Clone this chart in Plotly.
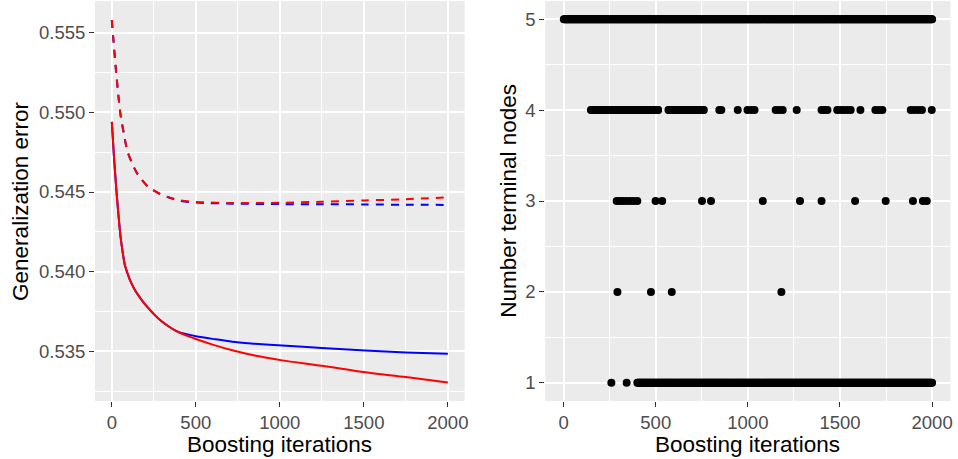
import plotly.graph_objects as go

# ---------------- data: left panel (generalization error) ----------------
solid_iter = [0, 13, 26, 36, 52, 65, 78, 95, 111, 140, 176, 210, 253, 300, 362, 400, 462, 500, 600, 717, 850, 1014, 1250, 1508, 1750, 2000]
solid_red  = [0.5494, 0.5472, 0.5453, 0.5440, 0.5422, 0.5412, 0.5404, 0.53985, 0.5394, 0.5388, 0.53825, 0.5378, 0.5373, 0.53685, 0.5364, 0.53618, 0.53592, 0.53577, 0.53542, 0.53506, 0.53473, 0.53443, 0.53409, 0.53368, 0.53338, 0.53304]
solid_blue = [0.5494, 0.5472, 0.5453, 0.5440, 0.5422, 0.5412, 0.5404, 0.53985, 0.5394, 0.5388, 0.53825, 0.5378, 0.5373, 0.53685, 0.5364, 0.53620, 0.53603, 0.53595, 0.53578, 0.53560, 0.53548, 0.53536, 0.53521, 0.53505, 0.53493, 0.53484]

dash_iter = [0, 10, 26, 50, 71, 95, 149, 214, 284, 353, 400, 500, 717, 1014, 1250, 1508, 1750, 2000]
dash_red  = [0.5558, 0.5545, 0.5525, 0.5500, 0.5487, 0.5475, 0.5462, 0.54535, 0.54489, 0.54462, 0.54448, 0.54438, 0.54431, 0.54432, 0.54439, 0.54447, 0.54455, 0.54466]
dash_blue = [0.5558, 0.5545, 0.5525, 0.5500, 0.5487, 0.5475, 0.5462, 0.54535, 0.54489, 0.54460, 0.54445, 0.54434, 0.54427, 0.54424, 0.54423, 0.54422, 0.54420, 0.54419]

# ---------------- data: right panel (number of terminal nodes) ----------------
# dense runs (start, end) of iterations where the tree had that many nodes
nodes5_runs = [(1, 2000)]
nodes4_runs = [(148, 513), (569, 761)]
nodes1_runs = [(400, 2000)]
# isolated iterations
nodes4_points = [845, 856, 945, 998, 1018, 1036, 1151, 1170, 1189, 1265, 1400, 1416, 1432,
                 1485, 1503, 1521, 1540, 1558, 1611, 1692, 1711, 1730, 1884, 1904, 1925, 1945, 1998]
nodes3_points = [288, 305, 322, 340, 360, 380, 400, 499, 535, 751, 800, 1081, 1283, 1400,
                 1582, 1748, 1896, 1950, 1971]
nodes2_points = [292, 474, 587, 1182]
nodes1_points = [259, 342]

x_ticks = [0, 500, 1000, 1500, 2000]
left_y_ticks = [0.535, 0.540, 0.545, 0.550, 0.555]
right_y_ticks = [1, 2, 3, 4, 5]


def expand(runs, step=4):
    out = []
    for a, b in runs:
        out.extend(range(a, b + 1, step))
        if out[-1] != b:
            out.append(b)
    return out


pts_x, pts_y = [], []
for n, runs, pts in [(5, nodes5_runs, []), (4, nodes4_runs, nodes4_points), (3, [], nodes3_points),
                     (2, [], nodes2_points), (1, nodes1_runs, nodes1_points)]:
    xs = expand(runs) + pts
    pts_x += xs
    pts_y += [n] * len(xs)

fig = go.Figure()

RED, BLUE = "#FF0000", "#0000FF"
DASH = "8px,7px"
for xs, ys, col, dash in [(dash_iter, dash_blue, BLUE, DASH), (dash_iter, dash_red, RED, DASH),
                          (solid_iter, solid_blue, BLUE, "solid"), (solid_iter, solid_red, RED, "solid")]:
    fig.add_trace(go.Scatter(x=xs, y=ys, mode="lines", xaxis="x", yaxis="y",
                             line=dict(color=col, width=2, dash=dash, shape="spline", smoothing=0.8),
                             showlegend=False, hoverinfo="skip"))

fig.add_trace(go.Scatter(x=pts_x, y=pts_y, mode="markers", xaxis="x2", yaxis="y2",
                         marker=dict(color="black", size=8, line=dict(width=0)),
                         showlegend=False))

W, H = 958, 459
top_px, bot_px = 1, 401
ydom = [1 - bot_px / H, 1 - top_px / H]

axis_common = dict(
    showgrid=True, gridcolor="white", gridwidth=1.6, zeroline=False, showline=False,
    ticks="outside", ticklen=5, tickwidth=1.2, tickcolor="#333333",
    tickfont=dict(family="Liberation Sans, Arial, sans-serif", size=18.5, color="#4D4D4D"),
)

fig.update_layout(
    width=W, height=H,
    margin=dict(l=0, r=0, t=0, b=0),
    paper_bgcolor="white",
    plot_bgcolor="#EBEBEB",
    showlegend=False,
    xaxis=dict(domain=[95.4 / W, 466.6 / W], range=[-100, 2100], tickvals=x_ticks,
               minor=dict(dtick=250, tick0=0, showgrid=True, gridcolor="white", gridwidth=0.8, ticks=""),
               anchor="y", **axis_common),
    yaxis=dict(domain=ydom, range=[0.53188, 0.55699], tickvals=left_y_ticks, tickformat=".3f",
               minor=dict(dtick=0.0025, tick0=0.535, showgrid=True, gridcolor="white", gridwidth=0.8, ticks=""),
               anchor="x", **axis_common),
    xaxis2=dict(domain=[547.5 / W, 954.5 / W], range=[-100, 2100], tickvals=x_ticks,
                minor=dict(dtick=250, tick0=0, showgrid=True, gridcolor="white", gridwidth=0.8, ticks=""),
                anchor="y2", **axis_common),
    yaxis2=dict(domain=ydom, range=[0.8, 5.2], tickvals=right_y_ticks,
                minor=dict(dtick=0.5, tick0=1, showgrid=True, gridcolor="white", gridwidth=0.8, ticks=""),
                anchor="x2", **axis_common),
)

title_font = dict(family="Liberation Sans, Arial, sans-serif", size=22.5, color="black")
for text, x, y, ang in [("Boosting iterations", 281 / W, 1 - 444 / H, 0),
                        ("Boosting iterations", 751 / W, 1 - 444 / H, 0),
                        ("Generalization error", 20 / W, 1 - 201 / H, -90),
                        ("Number terminal nodes", 510 / W, 1 - 201 / H, -90)]:
    fig.add_annotation(text=text, x=x, y=y, xref="paper", yref="paper", showarrow=False,
                       xanchor="center", yanchor="middle", textangle=ang, font=title_font)

fig.write_html("out.html", config={"displayModeBar": False},
               post_script="document.body.style.margin='0';document.body.style.overflow='hidden';")
